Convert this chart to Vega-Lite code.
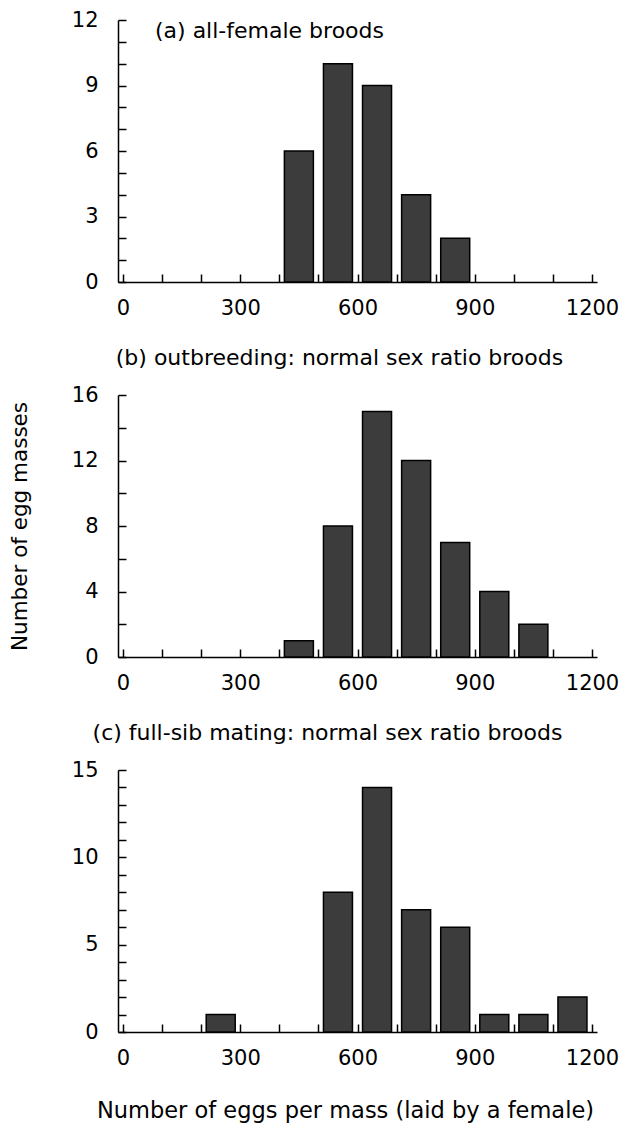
{
  "$schema": "https://vega.github.io/schema/vega-lite/v6.json",
  "background": "white",
  "padding": {"left": 9, "top": 9, "right": 2, "bottom": 2},
  "spacing": 29,
  "config": {
    "font": "DejaVu Sans",
    "view": {"stroke": null},
    "axis": {
      "grid": false,
      "domainColor": "black",
      "domainWidth": 1.5,
      "tickColor": "black",
      "tickWidth": 1.5,
      "tickSize": -8,
      "labelFont": "DejaVu Sans",
      "labelFontSize": 21,
      "labelColor": "black",
      "labelFontWeight": "normal",
      "titleFont": "DejaVu Sans",
      "titleFontSize": 21.5,
      "titleFontWeight": "normal",
      "titleColor": "black",
      "labelOverlap": false,
      "labelFlush": false,
      "format": "d"
    },
    "title": {"font": "DejaVu Sans", "fontSize": 22, "fontWeight": "normal", "color": "black"}
  },
  "datasets": {
    "eggs": [
      {"panel": "a", "eggs": 450, "count": 6},
      {"panel": "a", "eggs": 550, "count": 10},
      {"panel": "a", "eggs": 650, "count": 9},
      {"panel": "a", "eggs": 750, "count": 4},
      {"panel": "a", "eggs": 850, "count": 2},
      {"panel": "b", "eggs": 450, "count": 1},
      {"panel": "b", "eggs": 550, "count": 8},
      {"panel": "b", "eggs": 650, "count": 15},
      {"panel": "b", "eggs": 750, "count": 12},
      {"panel": "b", "eggs": 850, "count": 7},
      {"panel": "b", "eggs": 950, "count": 4},
      {"panel": "b", "eggs": 1050, "count": 2},
      {"panel": "c", "eggs": 250, "count": 1},
      {"panel": "c", "eggs": 550, "count": 8},
      {"panel": "c", "eggs": 650, "count": 14},
      {"panel": "c", "eggs": 750, "count": 7},
      {"panel": "c", "eggs": 850, "count": 6},
      {"panel": "c", "eggs": 950, "count": 1},
      {"panel": "c", "eggs": 1050, "count": 1},
      {"panel": "c", "eggs": 1150, "count": 2}
    ]
  },
  "vconcat": [
    {
      "width": 479,
      "height": 262,
      "title": {"text": "(a) all-female broods", "anchor": "start", "frame": "group", "orient": "top", "offset": 0, "baseline": "bottom", "dx": 37, "dy": 56},
      "data": {"name": "eggs"},
      "transform": [{"filter": "datum.panel === 'a'"}],
      "mark": {"type": "bar", "width": 29, "fill": "#3c3c3c", "stroke": "black", "strokeWidth": 1.5},
      "encoding": {
        "x": {"field": "eggs", "type": "quantitative", "scale": {"domain": [0, 1200], "nice": false},
          "axis": {"title": null, "values": [0,100,200,300,400,500,600,700,800,900,1000,1100,1200], "labelExpr": "datum.value % 300 === 0 ? datum.label : ''", "labelPadding": 23}},
        "y": {"field": "count", "type": "quantitative", "scale": {"domain": [0, 12], "nice": false},
          "axis": {"title": null, "values": [0,1,2,3,4,5,6,7,8,9,10,11,12], "labelExpr": "datum.value % 3 === 0 ? datum.label : ''", "labelPadding": 28}}
      }
    },
    {
      "width": 479,
      "height": 262,
      "title": {"text": "(b) outbreeding: normal sex ratio broods", "anchor": "middle", "frame": "group", "offset": 14, "dx": -18},
      "data": {"name": "eggs"},
      "transform": [{"filter": "datum.panel === 'b'"}],
      "mark": {"type": "bar", "width": 29, "fill": "#3c3c3c", "stroke": "black", "strokeWidth": 1.5},
      "encoding": {
        "x": {"field": "eggs", "type": "quantitative", "scale": {"domain": [0, 1200], "nice": false},
          "axis": {"title": null, "values": [0,100,200,300,400,500,600,700,800,900,1000,1100,1200], "labelExpr": "datum.value % 300 === 0 ? datum.label : ''", "labelPadding": 23}},
        "y": {"field": "count", "type": "quantitative", "scale": {"domain": [0, 16], "nice": false},
          "axis": {"title": "Number of egg masses", "titlePadding": 40, "values": [0,2,4,6,8,10,12,14,16], "labelExpr": "datum.value % 4 === 0 ? datum.label : ''", "labelPadding": 28}}
      }
    },
    {
      "width": 479,
      "height": 262,
      "title": {"text": "(c) full-sib mating: normal sex ratio broods", "anchor": "middle", "frame": "group", "offset": 14, "dx": -30},
      "data": {"name": "eggs"},
      "transform": [{"filter": "datum.panel === 'c'"}],
      "mark": {"type": "bar", "width": 29, "fill": "#3c3c3c", "stroke": "black", "strokeWidth": 1.5},
      "encoding": {
        "x": {"field": "eggs", "type": "quantitative", "scale": {"domain": [0, 1200], "nice": false},
          "axis": {"title": "Number of eggs per mass (laid by a female)", "titleFontSize": 22.5, "titlePadding": 31, "titleX": 227, "values": [0,100,200,300,400,500,600,700,800,900,1000,1100,1200], "labelExpr": "datum.value % 300 === 0 ? datum.label : ''", "labelPadding": 23}},
        "y": {"field": "count", "type": "quantitative", "scale": {"domain": [0, 15], "nice": false},
          "axis": {"title": null, "values": [0,1,2,3,4,5,6,7,8,9,10,11,12,13,14,15], "labelExpr": "datum.value % 5 === 0 ? datum.label : ''", "labelPadding": 28}}
      }
    }
  ]
}
